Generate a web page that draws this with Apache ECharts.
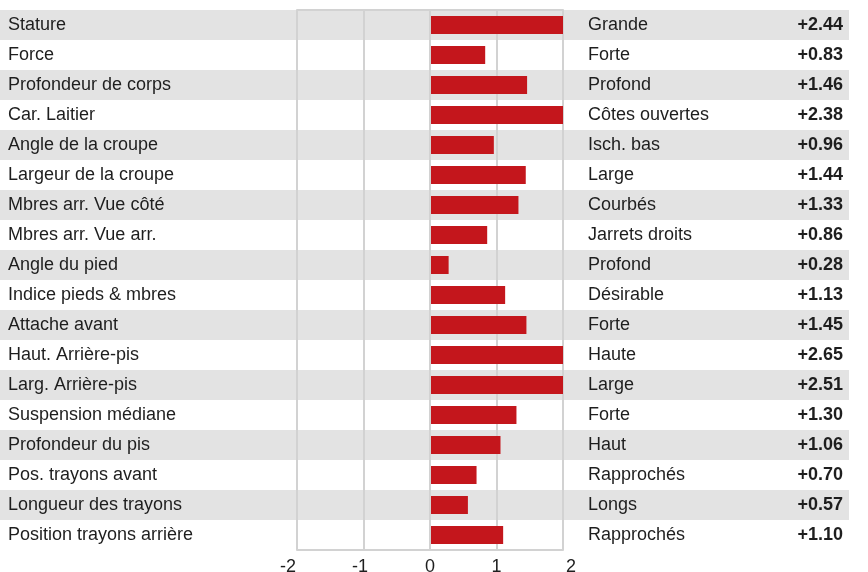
<!DOCTYPE html>
<html>
<head>
<meta charset="utf-8">
<script src="https://cdn.jsdelivr.net/npm/echarts@6/dist/echarts.min.js"></script>
<style>
html,body{margin:0;padding:0;background:#fff;}
#chart{width:868px;height:572px;}
</style>
</head>
<body>
<div id="chart"></div>
<script>
var categories = ['Stature','Force','Profondeur de corps','Car. Laitier','Angle de la croupe','Largeur de la croupe','Mbres arr. Vue côté','Mbres arr. Vue arr.','Angle du pied','Indice pieds & mbres','Attache avant','Haut. Arrière-pis','Larg. Arrière-pis','Suspension médiane','Profondeur du pis','Pos. trayons avant','Longueur des trayons','Position trayons arrière'];
var descriptors = ['Grande','Forte','Profond','Côtes ouvertes','Isch. bas','Large','Courbés','Jarrets droits','Profond','Désirable','Forte','Haute','Large','Forte','Haut','Rapprochés','Longs','Rapprochés'];
var values = [2.44,0.83,1.46,2.38,0.96,1.44,1.33,0.86,0.28,1.13,1.45,2.65,2.51,1.30,1.06,0.70,0.57,1.10];
var xMin = -2, xMax = 2, xStep = 1;

var FONT = '"Liberation Sans", Arial, Helvetica, sans-serif';
var TXT = '#1e1e1e';
var BAND = '#e3e3e3';
var LINE = '#d2d2d2';
var CLEAR = 'rgba(255,255,255,0)';

var chart = echarts.init(document.getElementById('chart'), null, {renderer:'canvas'});

var valueLabels = values.map(function(v){ return (v >= 0 ? '+' : '') + v.toFixed(2); });
function bandData(v){
  return categories.map(function(c,i){ return {value:v, itemStyle:{color: i%2===0 ? BAND : CLEAR}}; });
}

var borderLine = {show:true, lineStyle:{color:LINE, width:2}};
var noArea = {show:false};

var option = {
  animation:false,
  backgroundColor:'#fff',
  textStyle:{fontFamily:FONT},
  grid:[
    {left:0, right:19, top:10, bottom:22, outerBoundsMode:'none', containLabel:false},
    {left:297, right:305, top:10, bottom:22, outerBoundsMode:'none', containLabel:false},
    {left:588, right:19, top:10, bottom:22, outerBoundsMode:'none', containLabel:false}
  ],
  xAxis:[
    {gridIndex:0, type:'value', min:0, max:1, show:false, splitArea:noArea},
    {gridIndex:1, type:'value', min:xMin, max:xMax, interval:xStep, z:3, position:'bottom',
     axisLine:borderLine, axisTick:{show:false}, splitArea:noArea,
     splitLine:{show:false},
     axisLabel:{fontSize:18, color:TXT, fontFamily:FONT, margin:8,
       alignMinLabel:'right', alignMaxLabel:'left',
       formatter:function(v){
         if (v === xMin || v === xMax) return '{e|' + v + '}';
         if (v < 0) return '{n|' + v + '}';
         return '{p|' + v + '}';
       },
       rich:{
         e:{fontSize:18, color:TXT, fontFamily:FONT, padding:[0,1,0,3]},
         n:{fontSize:18, color:TXT, fontFamily:FONT, padding:[0,7,0,0]},
         p:{fontSize:18, color:TXT, fontFamily:FONT}
       }}},
    {gridIndex:2, type:'value', min:0, max:1, show:false, splitArea:noArea},
    {gridIndex:1, type:'value', min:xMin, max:xMax, interval:xStep, z:4.5, position:'top',
     axisLine:borderLine, axisTick:{show:false}, axisLabel:{show:false},
     splitLine:{show:true, lineStyle:{color:LINE, width:2}}, splitArea:noArea}
  ],
  yAxis:[
    {gridIndex:0, type:'category', data:categories, inverse:true,
     axisLine:{show:false}, axisTick:{show:false}, splitLine:{show:false}, splitArea:noArea,
     axisLabel:{inside:true, margin:8, fontSize:18, color:TXT, fontFamily:FONT}},
    {gridIndex:0, type:'category', data:valueLabels, inverse:true, position:'right',
     axisLine:{show:false}, axisTick:{show:false}, splitLine:{show:false}, splitArea:noArea,
     axisLabel:{inside:true, margin:6, fontSize:18, fontWeight:'bold', color:TXT, fontFamily:FONT}},
    {gridIndex:1, type:'category', data:categories, inverse:true, position:'left', z:10,
     axisLine:borderLine, axisTick:{show:false}, axisLabel:{show:false}, splitLine:{show:false}, splitArea:noArea},
    {gridIndex:2, type:'category', data:descriptors, inverse:true,
     axisLine:{show:false}, axisTick:{show:false}, splitLine:{show:false}, splitArea:noArea,
     axisLabel:{inside:true, margin:0, fontSize:18, color:TXT, fontFamily:FONT}},
    {gridIndex:1, type:'category', data:categories, inverse:true, position:'right', z:10,
     axisLine:borderLine, axisTick:{show:false}, axisLabel:{show:false}, splitLine:{show:false}, splitArea:noArea},
    {gridIndex:1, type:'category', data:categories, inverse:true, show:false, splitArea:noArea}
  ],
  series:[
    {type:'bar', xAxisIndex:0, yAxisIndex:0, silent:true, z:-1,
     barWidth:'100%', barCategoryGap:0, data:bandData(1)},
    {type:'bar', xAxisIndex:1, yAxisIndex:5, silent:true, z:4,
     barWidth:'100%', barGap:'-100%', data:bandData(xMin)},
    {type:'bar', xAxisIndex:1, yAxisIndex:5, silent:true, z:4,
     barWidth:'100%', barGap:'-100%', data:bandData(xMax)},
    {type:'bar', xAxisIndex:1, yAxisIndex:2, z:5, barWidth:18,
     itemStyle:{color:'#c4161c'}, data:values},
    {type:'line', xAxisIndex:3, yAxisIndex:4, data:[], silent:true}
  ]
};
chart.setOption(option);
</script>
</body>
</html>
